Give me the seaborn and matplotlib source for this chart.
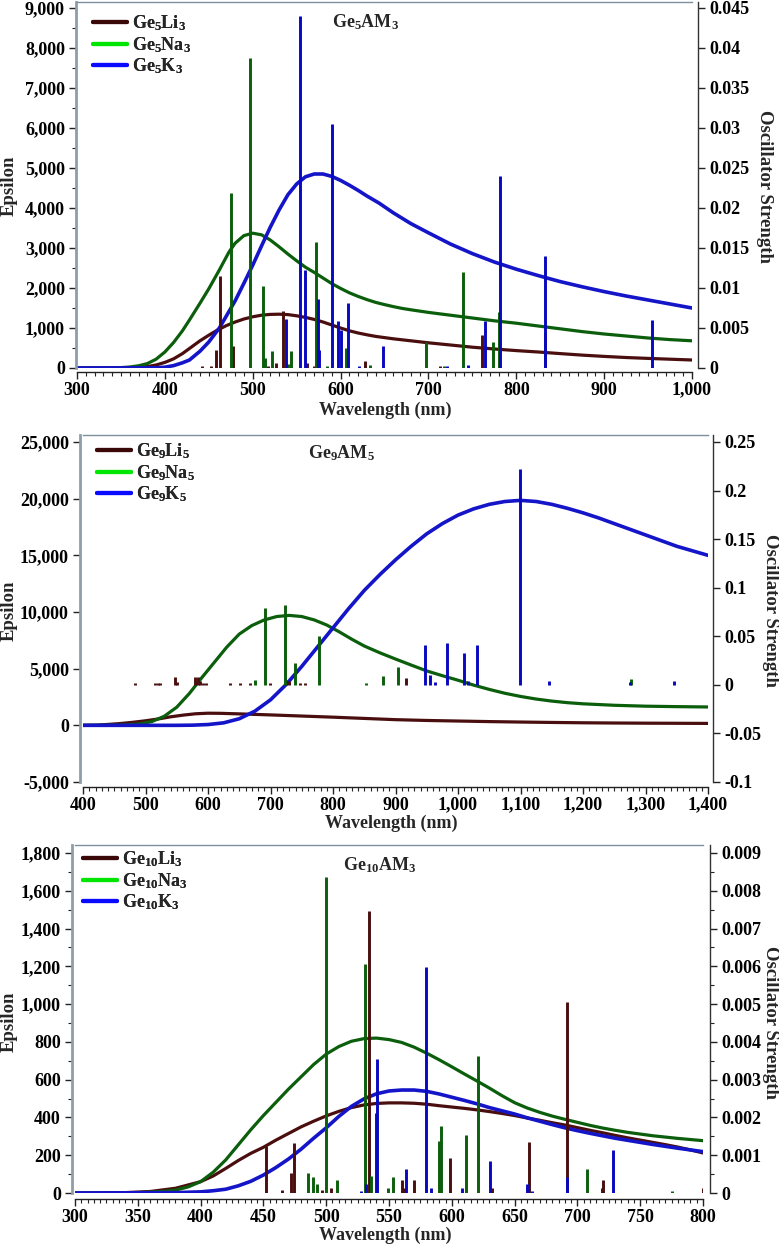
import numpy as np
import pandas as pd
import matplotlib
matplotlib.use('Agg')
import matplotlib.pyplot as plt
import seaborn as sns
from matplotlib.lines import Line2D
from matplotlib.ticker import FuncFormatter, MultipleLocator

# ---------------- Panel 1: Ge5AM3 ----------------
p1_li_x = [300, 350, 360, 370, 380, 390, 400, 410, 420, 430, 440, 450, 460, 470, 480, 490, 500, 510, 520, 530, 540, 550,
           560, 570, 580, 590, 600, 610, 620, 630, 640, 650, 660, 670, 680, 700, 725, 750, 775, 800, 825, 850, 875, 900,
           925, 950, 975, 1000]
p1_li_y = [0, 2, 6, 15, 35, 75, 140, 230, 360, 520, 680, 820, 950, 1060, 1150, 1225, 1280, 1320, 1340, 1345, 1335, 1305,
           1265, 1215, 1150, 1075, 1000, 930, 875, 830, 790, 760, 730, 705, 680, 630, 575, 520, 475, 435, 400, 360, 322, 290,
           262, 240, 220, 200]
p1_na_x = [300, 340, 350, 360, 370, 380, 390, 400, 410, 420, 428, 440, 450, 462, 473, 480, 490, 500, 510, 520, 530, 540,
           550, 560, 570, 580, 590, 600, 610, 620, 630, 640, 650, 660, 670, 680, 700, 725, 750, 775, 800, 825, 850, 875,
           900, 925, 950, 975, 1000]
p1_na_y = [0, 3, 10, 25, 55, 110, 220, 400, 640, 930, 1200, 1620, 1980, 2450, 2900, 3120, 3310, 3370, 3330, 3200, 3030,
           2850, 2680, 2520, 2390, 2250, 2110, 1990, 1880, 1790, 1710, 1640, 1585, 1535, 1490, 1455, 1390, 1320, 1250,
           1180, 1120, 1050, 980, 910, 850, 800, 750, 710, 680]
p1_k_x = [300, 390, 400, 410, 420, 428, 440, 450, 462, 470, 480, 490, 500, 510, 520, 530, 540, 550, 560, 570, 580, 590,
          600, 610, 620, 630, 644, 660, 680, 700, 725, 750, 775, 800, 825, 850, 875, 900, 925, 950, 975, 1000]
p1_k_y = [0, 5, 20, 60, 130, 200, 420, 650, 1000, 1300, 1680, 2120, 2570, 3050, 3520, 3950, 4330, 4600, 4780, 4850, 4850,
          4790, 4690, 4570, 4440, 4300, 4120, 3880, 3610, 3380, 3100, 2860, 2650, 2470, 2310, 2160, 2030, 1910, 1800,
          1700, 1600, 1500]

p1_li_bx = [442, 452, 458, 462.7, 478, 517, 527, 535, 562, 570, 628, 713, 761, 832.5]
p1_li_bf = [0.0003, 0.0003, 0.0022, 0.0115, 0.0027, 0.0003, 0.0006, 0.0071, 0.0006, 0.0003, 0.0009, 0.0003, 0.0041, 0.0044]
p1_na_bx = [475, 497, 512, 514, 521.6, 540, 544, 572, 584, 606, 634, 697, 718, 739, 773.6, 780]
p1_na_bf = [0.0219, 0.0388, 0.0102, 0.0013, 0.0021, 0.0005, 0.0021, 0.0157, 0.0003, 0.0025, 0.0004, 0.0033, 0.0003, 0.012, 0.0032, 0.007]
p1_k_bx = [538, 554, 559.6, 574, 576, 590, 597.6, 600.6, 608, 621, 648, 721, 745, 764, 782, 833, 954]
p1_k_bf = [0.0061, 0.044, 0.0122, 0.0086, 0.0022, 0.0305, 0.0059, 0.0048, 0.0081, 0.0003, 0.0028, 0.0003, 0.0004, 0.0059, 0.024, 0.014, 0.006]

# ---------------- Panel 2: Ge9AM5 ----------------
p2_li_x = [400, 420, 440, 460, 480, 500, 520, 540, 560, 580, 600, 620, 650, 700, 750, 800, 850, 900, 950, 1000, 1050,
           1100, 1150, 1200, 1250, 1300, 1350, 1400]
p2_li_y = [0, 10, 80, 160, 270, 400, 560, 750, 900, 1020, 1070, 1060, 1010, 920, 820, 720, 610, 500, 430, 380, 330,
           290, 255, 225, 205, 190, 180, 170]
p2_na_x = [400, 450, 470, 490, 510, 530, 550, 570, 590, 610, 630, 650, 670, 690, 710, 730, 750, 770, 790, 810, 830, 850,
           875, 900, 925, 950, 975, 1000, 1025, 1050, 1075, 1100, 1125, 1150, 1175, 1200, 1250, 1300, 1350, 1400]
p2_na_y = [0, 10, 40, 120, 330, 800, 1600, 2800, 4200, 5550, 6900, 8050, 8800, 9300, 9600, 9700, 9600, 9300, 8850, 8250,
           7600, 7000, 6400, 5850, 5320, 4800, 4380, 3980, 3550, 3170, 2830, 2550, 2320, 2140, 2000, 1900, 1770, 1690,
           1650, 1620]
p2_k_x = [400, 550, 575, 600, 625, 650, 675, 700, 725, 750, 775, 800, 825, 850, 875, 900, 925, 950, 975, 1000, 1025,
          1050, 1075, 1100, 1125, 1150, 1175, 1200, 1225, 1250, 1275, 1300, 1325, 1350, 1375, 1400]
p2_k_y = [0, 0, 15, 70, 220, 580, 1250, 2250, 3600, 5200, 6900, 8600, 10300, 11900, 13300, 14600, 15800, 16900, 17800,
          18550, 19100, 19500, 19750, 19850, 19750, 19500, 19150, 18750, 18300, 17800, 17300, 16800, 16300, 15800,
          15400, 15000]

p2_li_bx = [484, 516, 520, 524, 548, 551, 580, 584, 587, 592, 597, 635, 651, 667, 700, 725, 730, 748, 755, 917]
p2_li_bf = [0.002, 0.002, 0.002, 0.002, 0.0086, 0.003, 0.008, 0.008, 0.004, 0.002, 0.002, 0.002, 0.002, 0.002, 0.002, 0.005, 0.004, 0.002, 0.002, 0.007]
p2_na_bx = [675, 692, 723, 739, 778, 853, 880, 904, 1277]
p2_na_bf = [0.005, 0.079, 0.082, 0.022, 0.050, 0.002, 0.0096, 0.018, 0.006]
p2_k_bx = [948, 956, 963, 983, 1010, 1016, 1030, 1100, 1146, 1275, 1345]
p2_k_bf = [0.041, 0.010, 0.0034, 0.043, 0.0326, 0.004, 0.041, 0.222, 0.004, 0.003, 0.004]

# ---------------- Panel 3: Ge10AM3 ----------------
p3_li_x = [300, 340, 360, 380, 400, 410, 420, 430, 440, 450, 460, 470, 480, 490, 500, 510, 520, 530, 540, 550, 560, 570,
           580, 590, 600, 610, 620, 630, 640, 650, 660, 670, 680, 690, 700, 710, 720, 730, 740, 750, 760, 770, 780, 790, 800]
p3_li_y = [0, 2, 8, 25, 60, 90, 130, 172, 210, 242, 280, 315, 350, 380, 408, 432, 452, 466, 474, 477, 477, 475,
           470, 462, 455, 448, 440, 431, 421, 410, 397, 385, 372, 360, 346, 332, 319, 305, 292, 280, 268, 256, 243, 228, 212]
p3_na_x = [300, 350, 370, 380, 390, 400, 410, 420, 430, 440, 450, 460, 470, 480, 490, 500, 510, 520, 530, 540, 550, 560,
           570, 580, 590, 600, 610, 620, 630, 640, 650, 660, 670, 680, 690, 700, 710, 720, 730, 740, 750, 760, 770, 780,
           790, 800]
p3_na_y = [0, 2, 8, 15, 32, 60, 110, 175, 255, 335, 410, 480, 550, 615, 680, 735, 775, 803, 817, 820, 812, 797,
           772, 740, 705, 668, 630, 593, 555, 515, 478, 450, 427, 407, 390, 374, 358, 344, 332, 321, 312, 303, 296, 289,
           283, 277]
p3_k_x = [300, 380, 400, 410, 420, 430, 440, 450, 460, 470, 480, 490, 500, 510, 520, 530, 540, 550, 560, 570, 580, 590,
          600, 610, 620, 630, 640, 650, 660, 670, 680, 690, 700, 710, 720, 730, 740, 750, 760, 770, 780, 790, 800]
p3_k_y = [0, 2, 6, 12, 20, 38, 62, 95, 135, 180, 232, 290, 345, 405, 458, 498, 525, 540, 545, 545, 538, 524,
          507, 490, 472, 452, 435, 418, 398, 380, 362, 345, 330, 316, 303, 290, 279, 268, 257, 247, 237, 228, 219]

p3_li_bx = [451.8, 465, 472, 474.4, 496.6, 503.6, 534.3, 560.7, 562, 570, 598.8, 632.2, 661.7, 691.4, 719.3, 720.6, 800]
p3_li_bf = [0.00124, 0.00008, 0.00053, 0.00132, 0.00008, 0.00013, 0.00747, 0.00034, 0.00013, 0.00034, 0.00093, 0.00013, 0.00135, 0.00506, 0.00013, 0.00034, 0.00013]
p3_na_bx = [485.7, 489.7, 493, 500, 508.8, 531, 536, 549, 553.5, 590, 591.4, 611.5, 621, 707.3, 775]
p3_na_bf = [0.00053, 0.00042, 0.00025, 0.00836, 0.00034, 0.00606, 0.00044, 0.00013, 0.00043, 0.00137, 0.00177, 0.00154, 0.00363, 0.00064, 0.00005]
p3_k_bx = [528, 531.4, 539.3, 540.6, 563.4, 579.2, 583.4, 607.8, 630.4, 659.6, 664, 691.7, 728.6]
p3_k_bf = [0.00005, 0.00024, 0.00213, 0.00355, 0.00064, 0.00597, 0.00013, 0.00013, 0.00084, 0.00024, 0.00005, 0.00042, 0.00113]

p1_labels = [r'Ge$_5$Li$_3$', r'Ge$_5$Na$_3$', r'Ge$_5$K$_3$']
p2_labels = [r'Ge$_9$Li$_5$', r'Ge$_9$Na$_5$', r'Ge$_9$K$_5$']
p3_labels = [r'Ge$_{10}$Li$_3$', r'Ge$_{10}$Na$_3$', r'Ge$_{10}$K$_3$']
titles = [r'Ge$_5$AM$_3$', r'Ge$_9$AM$_5$', r'Ge$_{10}$AM$_3$']

# ---------------- style ----------------
sns.set_theme(style='ticks')
plt.rcParams['font.family'] = ['Liberation Serif', 'DejaVu Serif']
plt.rcParams['font.weight'] = 'bold'
plt.rcParams['mathtext.fontset'] = 'custom'
plt.rcParams['mathtext.rm'] = 'Liberation Serif:bold'
plt.rcParams['mathtext.it'] = 'Liberation Serif:bold'
plt.rcParams['mathtext.bf'] = 'Liberation Serif:bold'

LEG_COLORS = ['#3a0808', '#00e600', '#0a0aff']
CURVE_COLORS = ['#4a0e0e', '#0b5e0b', '#1414c8']
BAR_COLORS = ['#4a0e0e', '#0b5e0b', '#0808c0']
CURVE_LW = [2.3, 2.3, 2.6]

W, H = 779, 1244
fig = plt.figure(figsize=(W / 100, H / 100), dpi=100)
PT = 72 / 100.0  # points per pixel


def rect(l, t, r, b):
    return [l / W, 1 - b / H, (r - l) / W, (b - t) / H]


def thousands(v, p):
    return f"{int(round(v)):,}"


def small(v, p):
    return f"{v:g}"


def panel(r, xlim, ylim, y2lim, xmaj, xmin, ymaj, ymin, y2maj, y2min,
          curves, bars, labels, title, title_xy, leg_xy,
          off_left, off_bottom, off_right, ylabel_y, xlabel_y, xlabel_x, rlabel_x):
    ax = fig.add_axes(rect(*r))
    ax2 = ax.twinx()
    for (cx, cy), c, lw in zip(curves, CURVE_COLORS, CURVE_LW):
        df = pd.DataFrame({'wl': cx, 'eps': cy})
        sns.lineplot(data=df, x='wl', y='eps', ax=ax, color=c, lw=lw, legend=False)
    for (bx, bf), c in zip(bars, BAR_COLORS):
        ax2.vlines(bx, 0, bf, colors=c, lw=2.1)
    ax.set_xlim(*xlim)
    ax.set_ylim(*ylim)
    ax2.set_ylim(*y2lim)
    ax.set_xlabel('')
    ax.set_ylabel('')
    ax.xaxis.set_major_locator(MultipleLocator(xmaj))
    ax.xaxis.set_minor_locator(MultipleLocator(xmin))
    ax.yaxis.set_major_locator(MultipleLocator(ymaj))
    if ymin:
        ax.yaxis.set_minor_locator(MultipleLocator(ymin))
    ax2.yaxis.set_major_locator(MultipleLocator(y2maj))
    if y2min:
        ax2.yaxis.set_minor_locator(MultipleLocator(y2min))
    ax.xaxis.set_major_formatter(FuncFormatter(thousands))
    ax.yaxis.set_major_formatter(FuncFormatter(thousands))
    ax2.yaxis.set_major_formatter(FuncFormatter(small))

    ax.spines['right'].set_visible(False)
    ax.spines['top'].set_color('#7d8f9a')
    ax.spines['top'].set_linewidth(1.0)
    ax.spines['left'].set_color('#8d9ea8')
    ax.spines['left'].set_linewidth(2.0)
    ax.spines['left'].set_position(('outward', off_left * PT))
    ax.spines['bottom'].set_color('#222222')
    ax.spines['bottom'].set_linewidth(1.0)
    ax.spines['bottom'].set_position(('outward', off_bottom * PT))
    for s in ['left', 'top', 'bottom']:
        ax2.spines[s].set_visible(False)
    ax2.spines['right'].set_color('#333333')
    ax2.spines['right'].set_linewidth(1.0)
    ax2.spines['right'].set_position(('outward', off_right * PT))

    ax.tick_params(axis='both', which='major', length=5, width=1, color='#222222',
                   labelsize=13, pad=3, labelcolor='black')
    ax.tick_params(axis='x', which='major', pad=2)
    ax.tick_params(axis='both', which='minor', length=3, width=0.8, color='#222222')
    ax2.tick_params(axis='y', which='major', length=5, width=1, color='#222222',
                    labelsize=13, pad=3, labelcolor='black')
    ax2.tick_params(axis='y', which='minor', length=3, width=0.8, color='#222222')
    for t in ax.get_xticklabels() + ax.get_yticklabels() + ax2.get_yticklabels():
        t.set_fontweight('bold')
    ax.grid(False)
    ax2.grid(False)

    handles = [Line2D([0], [0], color=c, lw=3.0) for c in LEG_COLORS]
    leg = ax.legend(handles, labels, loc='upper left',
                    bbox_to_anchor=(leg_xy[0] / W, 1 - leg_xy[1] / H),
                    bbox_transform=fig.transFigure, frameon=False,
                    fontsize=13, handlelength=1.9, handletextpad=0.25,
                    labelspacing=0.12, borderpad=0, borderaxespad=0)
    ax.add_artist(leg)
    fig.text(title_xy[0] / W, 1 - title_xy[1] / H, title, fontsize=13,
             fontweight='bold', ha='left', va='center')
    fig.text(9 / W, 1 - ylabel_y / H, 'Epsilon', rotation=90, fontsize=13.5,
             fontweight='bold', ha='center', va='center')
    fig.text(rlabel_x / W, 1 - ylabel_y / H, 'Oscillator Strength', rotation=-90,
             fontsize=13.5, fontweight='bold', ha='center', va='center')
    fig.text(xlabel_x / W, 1 - xlabel_y / H, 'Wavelength (nm)', fontsize=13,
             fontweight='bold', ha='center', va='center')
    return ax, ax2


panel((77, 2, 692, 368), (300, 1000), (0, 9150), (0, 0.04575),
      100, 10, 1000, 500, 0.005, None,
      [(p1_li_x, p1_li_y), (p1_na_x, p1_na_y), (p1_k_x, p1_k_y)],
      [(p1_li_bx, p1_li_bf), (p1_na_bx, p1_na_bf), (p1_k_bx, p1_k_bf)],
      p1_labels, titles[0], (332, 22), (93, 13),
      1, 4, 6, 186, 410, 385, 764)

panel((83, 435, 708, 782), (400, 1400), (-5000, 25618), (-0.1, 0.2572),
      100, 10, 5000, None, 0.05, None,
      [(p2_li_x, p2_li_y), (p2_na_x, p2_na_y), (p2_k_x, p2_k_y)],
      [(p2_li_bx, p2_li_bf), (p2_na_bx, p2_na_bf), (p2_k_bx, p2_k_bf)],
      p2_labels, titles[1], (308, 453), (97, 441),
      3, 5, 5, 611, 823, 391, 770)

panel((75, 845, 703, 1193), (300, 800), (0, 1842), (0, 0.00921),
      50, 5, 200, 100, 0.001, 0.0005,
      [(p3_li_x, p3_li_y), (p3_na_x, p3_na_y), (p3_k_x, p3_k_y)],
      [(p3_li_bx, p3_li_bf), (p3_na_bx, p3_na_bf), (p3_k_bx, p3_k_bf)],
      p3_labels, titles[2], (343, 865), (83, 849),
      3, 6, 7, 1022, 1235, 385, 770)

fig.savefig('out.png', dpi=100)
